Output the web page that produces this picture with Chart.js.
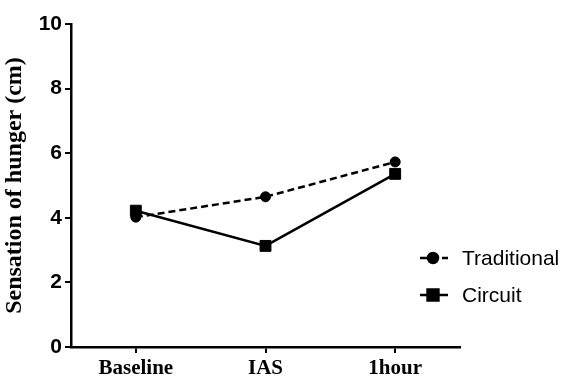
<!DOCTYPE html>
<html>
<head>
<meta charset="utf-8">
<script src="https://cdn.jsdelivr.net/npm/chart.js@4.4.1/dist/chart.umd.min.js"></script>
<style>
  html, body { margin: 0; padding: 0; background: #fff; }
  #wrap { width: 563px; height: 376px; }
</style>
</head>
<body>
<div id="wrap"><canvas id="c" width="563" height="376"></canvas></div>
<script>
const categories = ['Baseline', 'IAS', '1hour'];
const traditional = [4.02, 4.65, 5.73];
const circuit = [4.22, 3.13, 5.36];
const yTicks = [0, 2, 4, 6, 8, 10];

// legend drawn by hand: line + marker + label, like the original
const lineLegend = {
  id: 'lineLegend',
  afterDraw(chart) {
    const ctx = chart.ctx;
    const items = [
      { ds: chart.data.datasets[0], y: 258 },
      { ds: chart.data.datasets[1], y: 295 }
    ];
    ctx.save();
    items.forEach(it => {
      const ds = it.ds;
      ctx.strokeStyle = '#000';
      ctx.lineWidth = 2.5;
      ctx.setLineDash(ds.borderDash || []);
      ctx.beginPath();
      ctx.moveTo(420, it.y);
      ctx.lineTo(448, it.y);
      ctx.stroke();
      ctx.setLineDash([]);
      Chart.helpers.drawPoint(ctx, {
        pointStyle: ds.pointStyle,
        radius: ds.pointRadius,
        borderWidth: 1
      }, 433, it.y);
      ctx.fillStyle = '#000';
      ctx.fill();
      ctx.font = '21px "Liberation Sans", Arial, sans-serif';
      ctx.textBaseline = 'middle';
      ctx.textAlign = 'left';
      ctx.fillText(ds.label, 462, it.y + 1);
    });
    ctx.restore();
  }
};

new Chart(document.getElementById('c'), {
  type: 'line',
  data: {
    labels: categories,
    datasets: [
      {
        label: 'Traditional',
        data: traditional,
        borderColor: '#000',
        backgroundColor: '#000',
        borderWidth: 2.5,
        borderDash: [7, 4],
        pointStyle: 'circle',
        pointRadius: 5,
        pointBorderWidth: 1,
        tension: 0
      },
      {
        label: 'Circuit',
        data: circuit,
        borderColor: '#000',
        backgroundColor: '#000',
        borderWidth: 2.5,
        pointStyle: 'rect',
        pointRadius: 7.7,
        pointBorderWidth: 1,
        tension: 0
      }
    ]
  },
  options: {
    responsive: false,
    animation: false,
    layout: { padding: { top: 24, right: 103, left: 0, bottom: 0 } },
    plugins: { legend: { display: false }, tooltip: { enabled: false } },
    scales: {
      x: {
        offset: true,
        grid: { drawOnChartArea: false, drawTicks: true, tickLength: 6, color: '#000', lineWidth: 2 },
        border: { color: '#000', width: 2.5 },
        ticks: {
          color: '#000',
          padding: 3,
          font: { family: '"Liberation Serif", "Times New Roman", serif', size: 21, weight: 'bold' }
        },
        afterFit(scale) { scale.height = 29; }
      },
      y: {
        min: 0,
        max: 10,
        afterBuildTicks(scale) { scale.ticks = yTicks.map(v => ({ value: v })); },
        grid: { drawOnChartArea: false, drawTicks: true, tickLength: 6, color: '#000', lineWidth: 2 },
        border: { color: '#000', width: 2.5 },
        ticks: {
          color: '#000',
          padding: 3,
          font: { family: '"Liberation Sans", Arial, sans-serif', size: 21, weight: 'bold' }
        },
        title: {
          display: true,
          text: 'Sensation of hunger (cm)',
          color: '#000',
          padding: { top: 0, bottom: 4 },
          font: { family: '"Liberation Serif", "Times New Roman", serif', size: 24, weight: 'bold' }
        },
        afterFit(scale) { scale.width = 71; }
      }
    }
  },
  plugins: [lineLegend]
});
</script>
</body>
</html>
